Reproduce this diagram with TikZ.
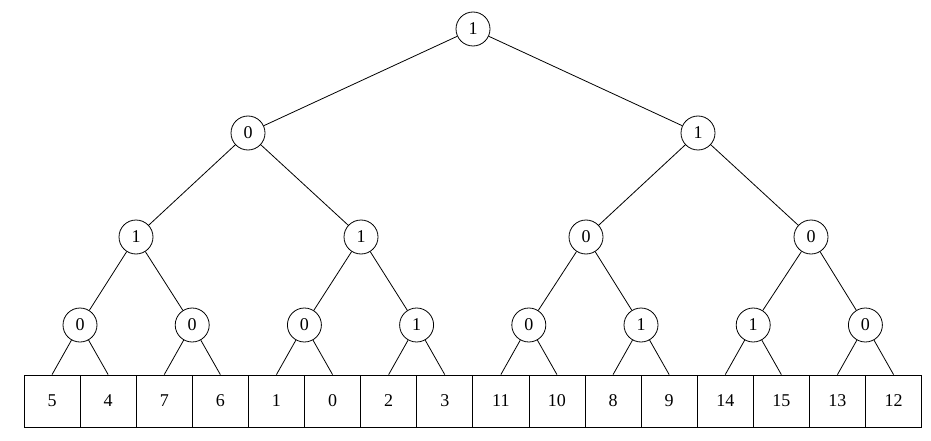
\documentclass[tikz,border=0pt]{standalone}
\usepackage{fontspec}
\setmainfont{Liberation Serif}
\usetikzlibrary{positioning}
\tikzset{
  bit/.style={draw,circle,minimum size=34pt,inner sep=0pt,line width=0.8pt},
  leaf/.style={draw,rectangle,minimum width=56.1pt,minimum height=52pt,inner sep=0pt,line width=0.8pt},
  edge/.style={line width=0.8pt},
}

\begin{document}
\begin{tikzpicture}[x=1pt,y=-1pt,font=\fontsize{18}{21}\selectfont]
\useasboundingbox (0,0) rectangle (931,441);

% internal bits
\node[bit] at (473,29) (r) {1};
\node[bit] at (248,133) (a0) {0};
\node[bit] at (698,133) (a1) {1};
\node[bit] at (136,237) (b0) {1};
\node[bit] at (361,237) (b1) {1};
\node[bit] at (586,237) (b2) {0};
\node[bit] at (811,237) (b3) {0};
\foreach \v [count=\i from 0] in {0,0,0,1,0,1,1,0}
  \node[bit] at ({80+112.2*\i},325) (c\i) {\v};

% leaves
\foreach \v [count=\i from 0] in {5,4,7,6,1,0,2,3,11,10,8,9,14,15,13,12}
  \node[leaf] at ({52.05+56.1*\i},401) (l\i) {\v};

% edges
\draw[edge] (r) -- (a0);
\draw[edge] (r) -- (a1);
\draw[edge] (a0) -- (b0);
\draw[edge] (a0) -- (b1);
\draw[edge] (a1) -- (b2);
\draw[edge] (a1) -- (b3);
\foreach \i [evaluate=\i as \j using int(2*\i), evaluate=\i as \k using int(2*\i+1)] in {0,...,3} {
  \draw[edge] (b\i) -- (c\j);
  \draw[edge] (b\i) -- (c\k);
}
\foreach \i [evaluate=\i as \j using int(2*\i), evaluate=\i as \k using int(2*\i+1)] in {0,...,7} {
  \draw[edge] (c\i) -- (l\j.north);
  \draw[edge] (c\i) -- (l\k.north);
}

\end{tikzpicture}
\end{document}
